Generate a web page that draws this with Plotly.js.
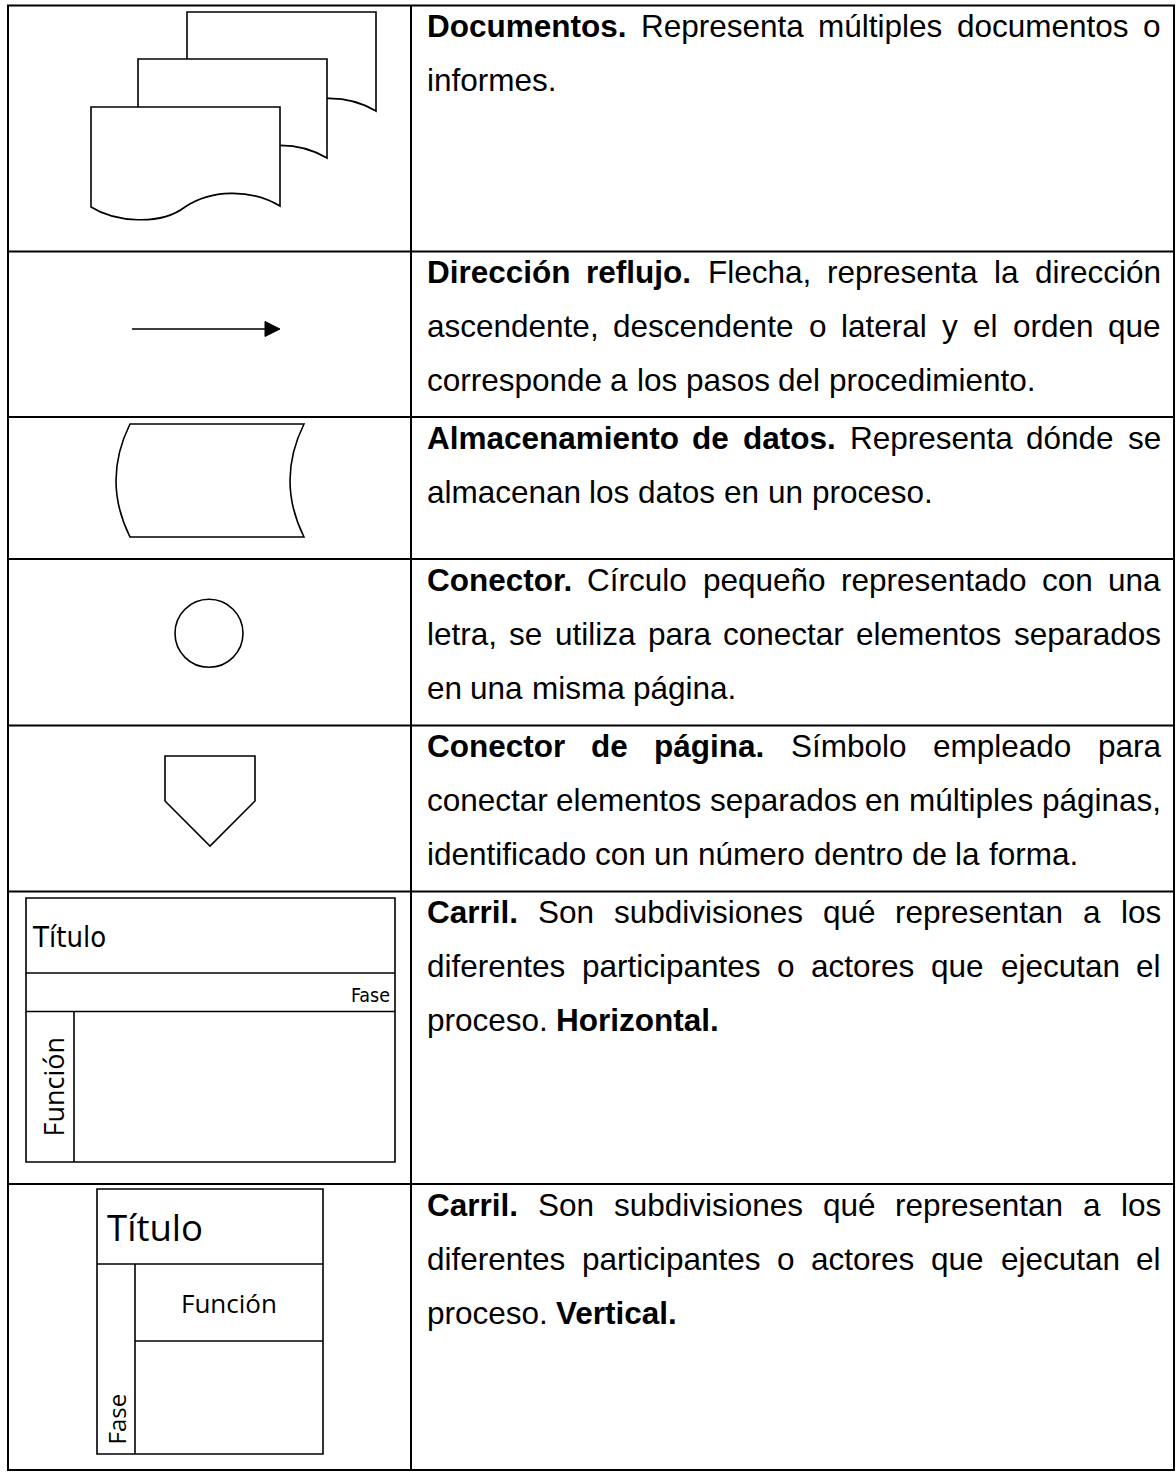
<!DOCTYPE html>
<html><head><meta charset="utf-8">
<script src="https://cdn.plot.ly/plotly-3.0.1.min.js"></script>
<style>html,body{margin:0;padding:0;background:#fff;}#chart{width:1176px;height:1472px;}</style>
</head><body><div id="chart"></div>
<script>
// ---- content (text of the table) ----
const symbolNames = ['Documentos', 'Dirección reflujo', 'Almacenamiento de datos', 'Conector', 'Conector de página', 'Carril horizontal', 'Carril vertical'];
const descriptions = [
  ['**Documentos.** Representa múltiples documentos o', 'informes.'],
  ['**Dirección reflujo.** Flecha, representa la dirección', 'ascendente, descendente o lateral y el orden que', 'corresponde a los pasos del procedimiento.'],
  ['**Almacenamiento de datos.** Representa dónde se', 'almacenan los datos en un proceso.'],
  ['**Conector.** Círculo pequeño representado con una', 'letra, se utiliza para conectar elementos separados', 'en una misma página.'],
  ['**Conector de página.** Símbolo empleado para', 'conectar elementos separados en múltiples páginas,', 'identificado con un número dentro de la forma.'],
  ['**Carril.** Son subdivisiones qué representan a los', 'diferentes participantes o actores que ejecutan el', 'proceso. **Horizontal.**'],
  ['**Carril.** Son subdivisiones qué representan a los', 'diferentes participantes o actores que ejecutan el', 'proceso. **Vertical.**']
];
const laneLabelsH = ['Título', 'Fase', 'Función'];
const laneLabelsV = ['Título', 'Función', 'Fase'];

// ---- layout geometry ----
const W = 1176, H = 1472;
const tableL = 8, tableR = 1174, colX = 411;
const rowEdges = [5.5, 251.5, 417, 559, 725.5, 891.5, 1184, 1470];
const textL = 426.5, textR = 1161;
const FS = 31.5, firstBase = 31.5, pitch = 54.2;
const mainFont = 'Liberation Sans, Arial, sans-serif';
const narrowFont = 'Liberation Sans Narrow, DejaVu Sans Condensed, Liberation Sans, sans-serif';
const humanFont = 'Open Sans, Noto Sans, sans-serif';

const shapes = [];
const tableLine = {color: '#000', width: 2};
const symLine = {color: '#000', width: 1.6};

// table
shapes.push({type: 'rect', xref: 'x', yref: 'y', x0: tableL, x1: tableR, y0: rowEdges[0], y1: rowEdges[rowEdges.length - 1], line: tableLine});
shapes.push({type: 'line', xref: 'x', yref: 'y', x0: colX, x1: colX, y0: rowEdges[0], y1: rowEdges[rowEdges.length - 1], line: tableLine});
for (let i = 1; i < rowEdges.length - 1; i++) {
  shapes.push({type: 'line', xref: 'x', yref: 'y', x0: tableL, x1: tableR, y0: rowEdges[i], y1: rowEdges[i], line: tableLine});
}

// documents symbol (three stacked pages)
function docPath(dx, dy) {
  const p = (x, y) => (x + dx) + ' ' + (y + dy);
  return 'M ' + p(91, 107) + ' L ' + p(280, 107) + ' L ' + p(280, 206) +
    ' C ' + p(250, 188) + ', ' + p(210, 190) + ', ' + p(185, 207) +
    ' C ' + p(160, 226) + ', ' + p(115, 222) + ', ' + p(91, 207) + ' Z';
}
[[96, -95], [47, -48], [0, 0]].forEach(o => {
  shapes.push({type: 'path', xref: 'x', yref: 'y', path: docPath(o[0], o[1]), line: symLine, fillcolor: '#fff'});
});

// arrow
shapes.push({type: 'line', xref: 'x', yref: 'y', x0: 132, x1: 268, y0: 329, y1: 329, line: symLine});
shapes.push({type: 'path', xref: 'x', yref: 'y', path: 'M 265 321.5 L 280 329 L 265 336.5 Z', line: {color: '#000', width: 1}, fillcolor: '#000'});

// storage
shapes.push({type: 'path', xref: 'x', yref: 'y', path: 'M 130 424 L 304 424 Q 276 480.5 304 537 L 130 537 Q 102 480.5 130 424 Z', line: symLine, fillcolor: 'rgba(0,0,0,0)'});

// connector circle
shapes.push({type: 'circle', xref: 'x', yref: 'y', x0: 175, x1: 243, y0: 599.3, y1: 667.3, line: symLine});

// off-page connector
shapes.push({type: 'path', xref: 'x', yref: 'y', path: 'M 165 756 L 255 756 L 255 801 L 210 846 L 165 801 Z', line: symLine, fillcolor: 'rgba(0,0,0,0)'});

// horizontal lane
shapes.push({type: 'rect', xref: 'x', yref: 'y', x0: 26, x1: 395, y0: 898, y1: 1162, line: symLine});
shapes.push({type: 'line', xref: 'x', yref: 'y', x0: 26, x1: 395, y0: 973, y1: 973, line: symLine});
shapes.push({type: 'line', xref: 'x', yref: 'y', x0: 26, x1: 395, y0: 1011.5, y1: 1011.5, line: symLine});
shapes.push({type: 'line', xref: 'x', yref: 'y', x0: 74, x1: 74, y0: 1011.5, y1: 1162, line: symLine});

// vertical lane
shapes.push({type: 'rect', xref: 'x', yref: 'y', x0: 97, x1: 323, y0: 1189, y1: 1454, line: symLine});
shapes.push({type: 'line', xref: 'x', yref: 'y', x0: 97, x1: 323, y0: 1264, y1: 1264, line: symLine});
shapes.push({type: 'line', xref: 'x', yref: 'y', x0: 135, x1: 135, y0: 1264, y1: 1454, line: symLine});
shapes.push({type: 'line', xref: 'x', yref: 'y', x0: 135, x1: 323, y0: 1341, y1: 1341, line: symLine});

// ---- text ----
const annotations = [];
const canvas = document.createElement('canvas');
const ctx = canvas.getContext('2d');
function measure(t, bold) {
  ctx.font = (bold ? 'bold ' : '') + FS + 'px "Liberation Sans", Arial, sans-serif';
  return ctx.measureText(t).width;
}
function tokens(line) {
  const parts = line.split('**');
  const out = [];
  parts.forEach((seg, i) => {
    const bold = i % 2 === 1;
    seg.split(' ').filter(s => s.length).forEach(w => out.push({w: w, bold: bold}));
  });
  return out;
}
descriptions.forEach((lines, r) => {
  const top = rowEdges[r];
  lines.forEach((line, li) => {
    const toks = tokens(line);
    const widths = toks.map(t => measure(t.w, t.bold));
    const total = widths.reduce((a, b) => a + b, 0);
    const justified = li < lines.length - 1 && toks.length > 1;
    const gap = justified ? (textR - textL - total) / (toks.length - 1) : measure(' ', false);
    const base = top + firstBase + li * pitch;
    let x = textL;
    toks.forEach((t, k) => {
      annotations.push({
        xref: 'x', yref: 'y', x: x, y: base - 0.3465 * FS,
        text: t.bold ? '<b>' + t.w + '</b>' : t.w,
        showarrow: false, xanchor: 'left', yanchor: 'middle',
        borderpad: 0, borderwidth: 0,
        font: {family: mainFont, size: FS, color: '#000'}
      });
      x += widths[k] + gap;
    });
  });
});

// lane labels
function label(text, x, y, xa, family, size, angle) {
  annotations.push({xref: 'x', yref: 'y', x: x, y: y, text: text, showarrow: false,
    xanchor: xa, yanchor: 'middle', borderpad: 0, borderwidth: 0, textangle: angle || 0,
    font: {family: family, size: size, color: '#000'}});
}
label(laneLabelsH[0], 32, 937, 'left', narrowFont, 29, 0);
label(laneLabelsH[1], 390, 995, 'right', narrowFont, 19.5, 0);
label(laneLabelsH[2], 52.5, 1087, 'center', humanFont, 27, -90);
label(laneLabelsV[0], 107, 1227, 'left', humanFont, 36.6, 0);
label(laneLabelsV[1], 229, 1303, 'center', humanFont, 26, 0);
label(laneLabelsV[2], 116, 1419.5, 'center', humanFont, 24, -90);

const data = [{type: 'scatter', x: [], y: [], mode: 'markers', hoverinfo: 'skip', showlegend: false}];
const layout = {
  width: W, height: H,
  margin: {l: 0, r: 0, t: 0, b: 0, pad: 0},
  paper_bgcolor: '#fff', plot_bgcolor: '#fff',
  xaxis: {range: [0, W], visible: false, fixedrange: true, showgrid: false, zeroline: false},
  yaxis: {range: [H, 0], visible: false, fixedrange: true, showgrid: false, zeroline: false},
  shapes: shapes, annotations: annotations, showlegend: false
};
Plotly.newPlot('chart', data, layout, {staticPlot: true, displayModeBar: false});
</script></body></html>
